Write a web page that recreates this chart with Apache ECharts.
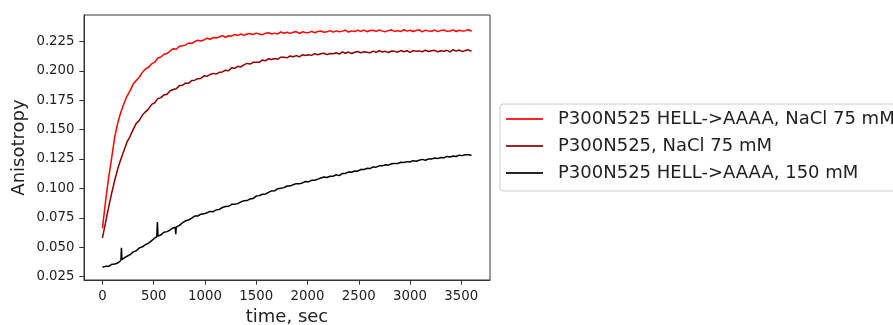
<!DOCTYPE html>
<html><head><meta charset="utf-8">
<script src="https://cdn.jsdelivr.net/npm/echarts@6/dist/echarts.min.js"></script>
<style>html,body{margin:0;padding:0;background:#fff}#c{width:893px;height:325px}</style>
</head><body><div id="c"></div>
<script>
const seriesNames = ['P300N525 HELL->AAAA, NaCl 75 mM', 'P300N525, NaCl 75 mM', 'P300N525 HELL->AAAA, 150 mM'];
const seriesColors = ['#ff0000', '#8b0000', '#000000'];
const xTicks = [0, 500, 1000, 1500, 2000, 2500, 3000, 3500];
const yTicks = [0.025, 0.050, 0.075, 0.100, 0.125, 0.150, 0.175, 0.200, 0.225];
const xRange = [-180, 3780];
const yRange = [0.0222, 0.2474];

const time = [0,30,60,90,120,150,180,210,240,270,300,330,360,390,420,450,480,510,540,570,600,630,660,690,720,750,780,810,840,870,900,930,960,990,1020,1050,1080,1110,1140,1170,1200,1230,1260,1290,1320,1350,1380,1410,1440,1470,1500,1530,1560,1590,1620,1650,1680,1710,1740,1770,1800,1830,1860,1890,1920,1950,1980,2010,2040,2070,2100,2130,2160,2190,2220,2250,2280,2310,2340,2370,2400,2430,2460,2490,2520,2550,2580,2610,2640,2670,2700,2730,2760,2790,2820,2850,2880,2910,2940,2970,3000,3030,3060,3090,3120,3150,3180,3210,3240,3270,3300,3330,3360,3390,3420,3450,3480,3510,3540,3570,3600];

const redValues = [0.0660,0.0890,0.1090,0.1260,0.1440,0.1560,0.1650,0.1722,0.1785,0.1831,0.1887,0.1918,0.1947,0.1988,0.2016,0.2030,0.2059,0.2073,0.2109,0.2117,0.2141,0.2146,0.2168,0.2188,0.2183,0.2208,0.2212,0.2218,0.2236,0.2231,0.2248,0.2259,0.2253,0.2262,0.2277,0.2268,0.2282,0.2279,0.2287,0.2299,0.2285,0.2298,0.2294,0.2308,0.2300,0.2313,0.2301,0.2313,0.2316,0.2308,0.2320,0.2312,0.2307,0.2319,0.2323,0.2313,0.2320,0.2313,0.2330,0.2319,0.2327,0.2318,0.2327,0.2333,0.2317,0.2331,0.2326,0.2324,0.2335,0.2323,0.2334,0.2338,0.2327,0.2331,0.2341,0.2328,0.2339,0.2332,0.2337,0.2345,0.2329,0.2339,0.2333,0.2344,0.2335,0.2346,0.2332,0.2342,0.2344,0.2335,0.2346,0.2337,0.2331,0.2343,0.2346,0.2335,0.2341,0.2333,0.2349,0.2337,0.2344,0.2334,0.2342,0.2348,0.2331,0.2345,0.2339,0.2336,0.2346,0.2333,0.2343,0.2347,0.2335,0.2338,0.2348,0.2334,0.2344,0.2337,0.2341,0.2349,0.2336];

const darkredValues = [0.0580,0.0710,0.0840,0.0960,0.1070,0.1170,0.1250,0.1322,0.1396,0.1443,0.1502,0.1553,0.1580,0.1624,0.1651,0.1676,0.1715,0.1728,0.1763,0.1772,0.1795,0.1801,0.1830,0.1841,0.1848,0.1874,0.1876,0.1895,0.1893,0.1918,0.1920,0.1933,0.1935,0.1957,0.1953,0.1968,0.1978,0.1972,0.1987,0.1990,0.2005,0.2000,0.2025,0.2021,0.2038,0.2033,0.2050,0.2063,0.2057,0.2072,0.2073,0.2073,0.2091,0.2085,0.2103,0.2096,0.2105,0.2098,0.2115,0.2114,0.2110,0.2126,0.2119,0.2129,0.2119,0.2136,0.2130,0.2136,0.2131,0.2146,0.2136,0.2144,0.2149,0.2137,0.2147,0.2144,0.2153,0.2142,0.2160,0.2149,0.2159,0.2147,0.2157,0.2164,0.2152,0.2162,0.2158,0.2153,0.2167,0.2157,0.2170,0.2160,0.2165,0.2155,0.2168,0.2165,0.2158,0.2172,0.2162,0.2170,0.2157,0.2172,0.2165,0.2169,0.2162,0.2175,0.2164,0.2171,0.2174,0.2161,0.2170,0.2166,0.2174,0.2161,0.2179,0.2167,0.2176,0.2163,0.2172,0.2178,0.2165];

const blackTime = [0,30,60,90,120,150,180,185,190,210,240,270,300,330,360,390,420,450,480,510,530,536,542,570,600,630,660,690,710,715,720,750,780,810,840,870,900,930,960,990,1020,1050,1080,1110,1140,1170,1200,1230,1260,1290,1320,1350,1380,1410,1440,1470,1500,1530,1560,1590,1620,1650,1680,1710,1740,1770,1800,1830,1860,1890,1920,1950,1980,2010,2040,2070,2100,2130,2160,2190,2220,2250,2280,2310,2340,2370,2400,2430,2460,2490,2520,2550,2580,2610,2640,2670,2700,2730,2760,2790,2820,2850,2880,2910,2940,2970,3000,3030,3060,3090,3120,3150,3180,3210,3240,3270,3300,3330,3360,3390,3420,3450,3480,3510,3540,3570,3600];

const blackValues = [0.0330,0.0338,0.0338,0.0355,0.0358,0.0367,0.0388,0.0495,0.0398,0.0407,0.0424,0.0437,0.0461,0.0470,0.0495,0.0504,0.0523,0.0536,0.0557,0.0579,0.0588,0.0715,0.0595,0.0605,0.0628,0.0633,0.0647,0.0664,0.0670,0.0612,0.0672,0.0686,0.0707,0.0725,0.0732,0.0747,0.0765,0.0766,0.0781,0.0784,0.0794,0.0805,0.0803,0.0818,0.0822,0.0838,0.0846,0.0848,0.0865,0.0866,0.0871,0.0886,0.0896,0.0897,0.0911,0.0915,0.0935,0.0939,0.0951,0.0953,0.0967,0.0979,0.0980,0.0998,0.1001,0.1007,0.1021,0.1020,0.1032,0.1041,0.1039,0.1047,0.1059,0.1056,0.1069,0.1070,0.1079,0.1089,0.1098,0.1093,0.1104,0.1104,0.1116,0.1109,0.1128,0.1128,0.1140,0.1138,0.1148,0.1147,0.1161,0.1161,0.1171,0.1169,0.1183,0.1181,0.1192,0.1192,0.1202,0.1198,0.1210,0.1212,0.1211,0.1223,0.1220,0.1228,0.1225,0.1236,0.1231,0.1240,0.1247,0.1240,0.1251,0.1250,0.1258,0.1254,0.1262,0.1260,0.1272,0.1268,0.1276,0.1272,0.1283,0.1279,0.1287,0.1287,0.1283];

function pairs(t, v) { return t.map((x, i) => [x, v[i]]); }

const FONT = 'DejaVu Sans';
const TXT = '#222';
const AX = '#333';

const chart = echarts.init(document.getElementById('c'), null, {renderer: 'canvas'});
const seriesData = [pairs(time, redValues), pairs(time, darkredValues), pairs(blackTime, blackValues)];

chart.setOption({
  animation: false,
  backgroundColor: '#fff',
  grid: {left: 84, right: 403, top: 15, bottom: 45, containLabel: false, outerBoundsMode: 'none',
         show: true, borderColor: AX, borderWidth: 1, backgroundColor: 'transparent'},
  xAxis: {
    type: 'value', min: xRange[0], max: xRange[1],
    axisLine: {show: true, onZero: false, lineStyle: {color: AX, width: 1}},
    axisTick: {show: true, length: 4.7, customValues: xTicks, lineStyle: {color: AX, width: 1}},
    axisLabel: {customValues: xTicks, color: TXT, fontSize: 13.3, fontFamily: FONT, margin: 10, formatter: v => String(v)},
    splitLine: {show: false},
    name: 'time, sec', nameLocation: 'middle', nameGap: 25,
    nameTextStyle: {fontSize: 18, color: TXT, fontFamily: FONT}
  },
  yAxis: {
    type: 'value', min: yRange[0], max: yRange[1],
    axisLine: {show: true, onZero: false, lineStyle: {color: AX, width: 1}},
    axisTick: {show: true, length: 4.7, customValues: yTicks, lineStyle: {color: AX, width: 1}},
    axisLabel: {customValues: yTicks, color: TXT, fontSize: 13.3, fontFamily: FONT, margin: 9.5, formatter: v => v.toFixed(3)},
    splitLine: {show: false},
    name: 'Anisotropy', nameLocation: 'middle', nameGap: 56,
    nameTextStyle: {fontSize: 18, color: TXT, fontFamily: FONT}
  },
  legend: {
    orient: 'vertical', left: 500, top: 104,
    icon: 'rect', itemWidth: 37, itemHeight: 2, itemGap: 7,
    padding: [5, 10, 8, 6],
    borderColor: '#cccccc', borderWidth: 1, borderRadius: 3,
    backgroundColor: 'rgba(255,255,255,0.8)',
    selectedMode: false,
    itemStyle: {opacity: 0.85},
    textStyle: {fontSize: 18, fontFamily: FONT, color: TXT, lineHeight: 20, padding: [0, 0, 0, 10]},
    data: seriesNames
  },
  series: seriesNames.map((n, i) => ({
    name: n, type: 'line', data: seriesData[i],
    showSymbol: false, symbol: 'none',
    color: seriesColors[i],
    lineStyle: {color: seriesColors[i], width: 1.5},
    itemStyle: {color: seriesColors[i]}
  }))
});
</script>
</body></html>
